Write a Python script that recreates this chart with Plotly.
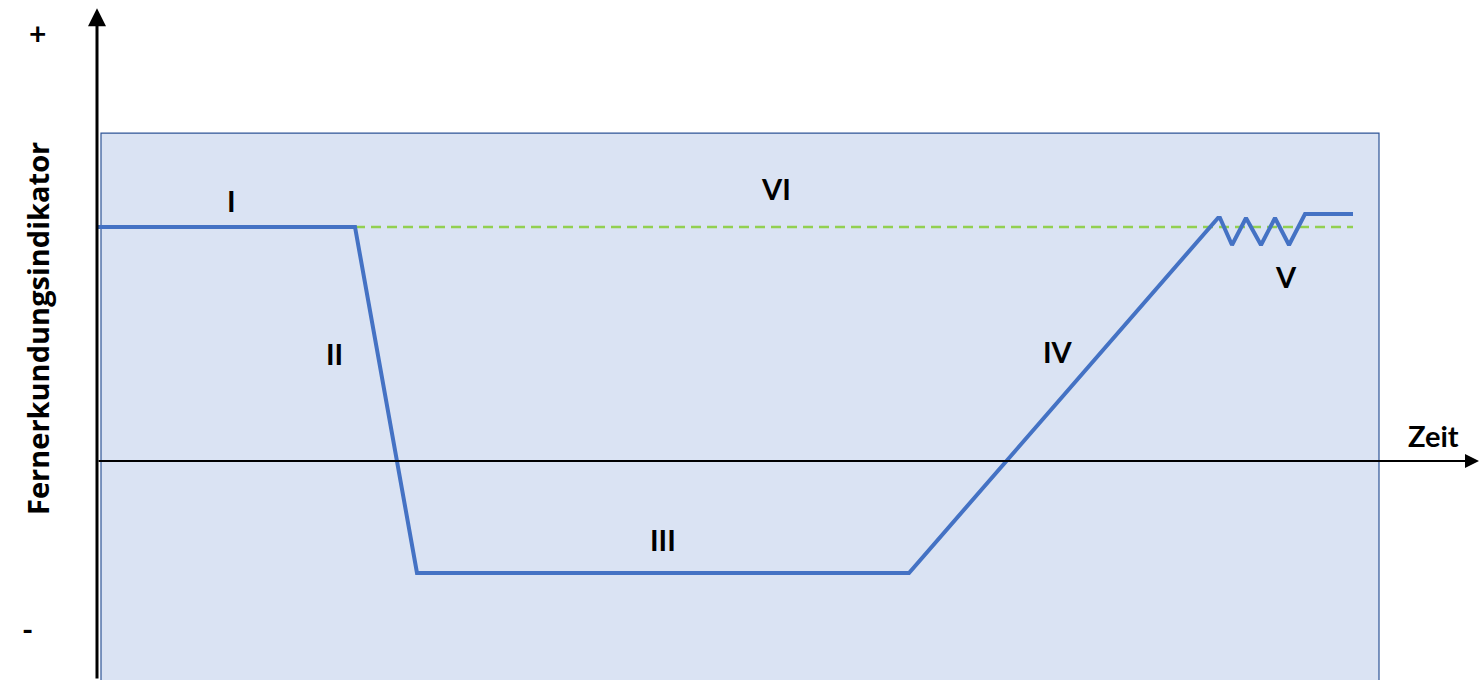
import plotly.graph_objects as go

# Verlauf des Fernerkundungsindikators über die Zeit
zeit = [0, 25.8, 32.0, 81.2, 112.1, 112.3, 113.5, 114.9, 116.4, 117.8, 119.2, 120.8, 125.6]
indikator = [2.0, 2.0, -0.957, -0.957, 2.077, 2.077, 1.846, 2.077, 1.846, 2.077, 1.846, 2.111, 2.111]

# Referenzniveau (gestrichelt)
ref_zeit = [25.8, 125.6]
ref_wert = [2.0, 2.0]

# Phasen-Beschriftungen
phasen = ["I", "II", "III", "IV", "V", "VI"]
phasen_t = [13.4, 23.7, 56.6, 96.1, 118.9, 67.9]
phasen_v = [2.23, 0.915, -0.667, 0.94, 1.573, 2.325]

X_RANGE = [-9.7, 138.4]
Y_RANGE = [-1.872, 3.94]
FONT = "Lato, Open Sans, sans-serif"

fig = go.Figure()

# Hintergrund-Rechteck
fig.add_shape(type="rect", x0=0.4, x1=128.2, y0=-1.95, y1=2.803,
              fillcolor="#DAE3F3", line=dict(color="#2F5597", width=1.2),
              layer="below")

fig.add_trace(go.Scatter(
    x=ref_zeit, y=ref_wert, mode="lines",
    line=dict(color="#92D050", width=2.5, dash="10px,6px"),
    hoverinfo="skip", showlegend=False,
))
fig.add_trace(go.Scatter(
    x=zeit, y=indikator, mode="lines",
    line=dict(color="#4472C4", width=4),
    showlegend=False,
))

# Achsen als Pfeile
fig.add_annotation(x=0, y=3.87, ax=0, ay=Y_RANGE[0], xref="x", yref="y",
                   axref="x", ayref="y", text="", showarrow=True,
                   arrowhead=2, arrowsize=1.2, arrowwidth=3, arrowcolor="black")
fig.add_annotation(x=138.2, y=0, ax=0, ay=0, xref="x", yref="y",
                   axref="x", ayref="y", text="", showarrow=True,
                   arrowhead=2, arrowsize=1.4, arrowwidth=2, arrowcolor="black")

for txt, t, v in zip(phasen, phasen_t, phasen_v):
    fig.add_annotation(x=t, y=v, text=f"<b>{txt}</b>", showarrow=False,
                       font=dict(size=29, color="black", family=FONT))

fig.add_annotation(x=133.6, y=0.214, text="<b>Zeit</b>", showarrow=False,
                   font=dict(size=29, color="black", family=FONT))
fig.add_annotation(x=-6.0, y=3.658, text="<b>+</b>", showarrow=False,
                   font=dict(size=30, color="black", family=FONT))
fig.add_annotation(x=-7.0, y=-1.436, text="<b>-</b>", showarrow=False,
                   font=dict(size=30, color="black", family=FONT))
fig.add_annotation(x=-6.0, y=1.128, text="<b>Fernerkundungsindikator</b>",
                   textangle=-90, showarrow=False,
                   font=dict(size=29, color="black", family="Open Sans, sans-serif"))

fig.update_layout(
    width=1481, height=680,
    margin=dict(l=0, r=0, t=0, b=0),
    paper_bgcolor="white", plot_bgcolor="white",
    xaxis=dict(range=X_RANGE, visible=False, fixedrange=True),
    yaxis=dict(range=Y_RANGE, visible=False, fixedrange=True),
)

fig.write_html(
    "out.html",
    config={"displayModeBar": False},
    post_script="document.body.style.margin='0';document.body.style.overflow='hidden';",
)
